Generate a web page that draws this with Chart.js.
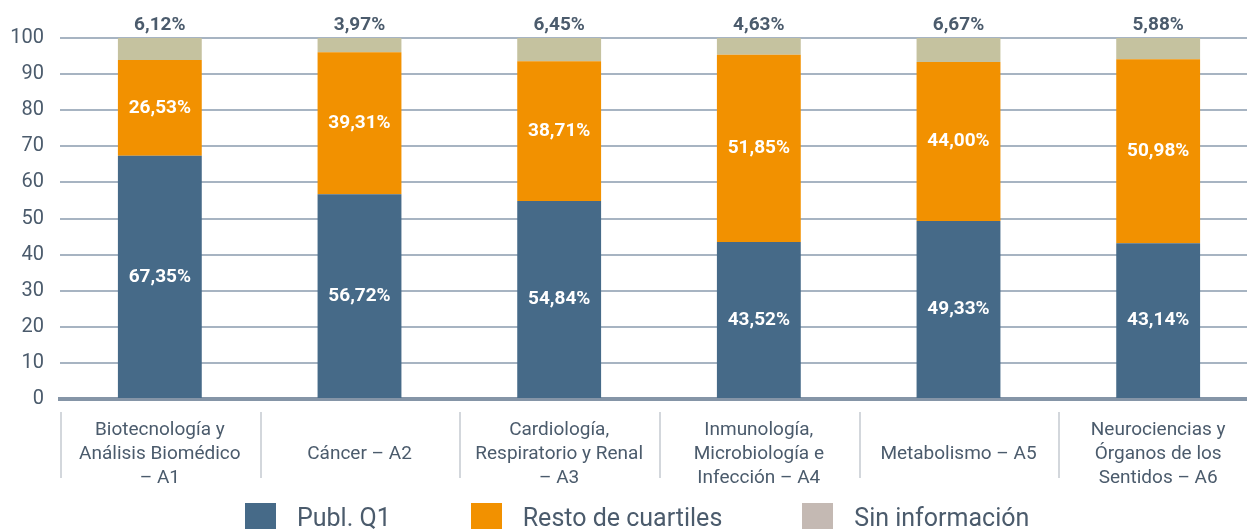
<!DOCTYPE html>
<html lang="es">
<head>
<meta charset="utf-8">
<title>Cuartiles por área</title>
<script src="https://cdn.jsdelivr.net/npm/chart.js@4.4.1/dist/chart.umd.min.js"></script>
<style>
  html, body { margin: 0; padding: 0; background: #ffffff; overflow: hidden; }
  #wrap { position: relative; width: 1258px; height: 529px; }
  #legend {
    position: absolute; left: 245px; top: 503px;
    display: flex; align-items: flex-start;
    font-family: Roboto, "Noto Sans", sans-serif; font-size: 25px; color: #4b5b6c;
  }
  .item { display: flex; align-items: flex-start; margin-right: 80px; }
  .sw { width: 31px; height: 28px; margin-right: 21px; }
  .txt { line-height: 28px; margin-top: 1px; }
</style>
</head>
<body>
<div id="wrap">
  <canvas id="chart" width="1258" height="529"></canvas>
  <div id="legend"></div>
</div>
<script>
// Porcentaje de publicaciones por cuartil en cada área
const categories = [
  ["Biotecnología y", "Análisis Biomédico", "– A1"],
  ["", "Cáncer – A2", ""],
  ["Cardiología,", "Respiratorio y Renal", "– A3"],
  ["Inmunología,", "Microbiología e", "Infección – A4"],
  ["", "Metabolismo – A5", ""],
  ["Neurociencias y", "Órganos de los", "Sentidos – A6"],
];
const seriesNames = ["Publ. Q1", "Resto de cuartiles", "Sin información"];
const publQ1 = [67.35, 56.72, 54.84, 43.52, 49.33, 43.14];
const restoCuartiles = [26.53, 39.31, 38.71, 51.85, 44.0, 50.98];
const sinInformacion = [6.12, 3.97, 6.45, 4.63, 6.67, 5.88];
const yTicks = [0, 10, 20, 30, 40, 50, 60, 70, 80, 90, 100];

const BAR_COLORS = ["#466a88", "#f29100", "#c5c29f"];
const LEGEND_COLORS = ["#466a88", "#f29100", "#c4b9b3"];
const TEXT = "#4b5b6c";
const FONT = "Roboto, 'Noto Sans', sans-serif";

const fmtPct = (v) => v.toFixed(2).replace(".", ",") + "%";

// valores sobre cada segmento (blanco dentro, oscuro encima de la barra)
const valueLabels = {
  id: "valueLabels",
  afterDatasetsDraw(chart) {
    const ctx = chart.ctx;
    ctx.save();
    ctx.font = `bold 19px ${FONT}`;
    ctx.textAlign = "center";
    ctx.textBaseline = "middle";
    chart.data.datasets.forEach((ds, di) => {
      const meta = chart.getDatasetMeta(di);
      meta.data.forEach((bar, i) => {
        const v = ds.data[i];
        if (di === 2) {
          ctx.fillStyle = TEXT;
          ctx.fillText(fmtPct(v), bar.x, chart.chartArea.top - 13);
        } else {
          ctx.fillStyle = "#ffffff";
          ctx.fillText(fmtPct(v), bar.x, (bar.y + bar.base) / 2);
        }
      });
    });
    ctx.restore();
  },
};

// separadores verticales entre etiquetas de categoría
const categoryDividers = {
  id: "categoryDividers",
  afterDraw(chart) {
    const x = chart.scales.x;
    const n = chart.data.labels.length;
    const w = x.width / n;
    const ctx = chart.ctx;
    ctx.save();
    ctx.strokeStyle = "#d3d7dc";
    ctx.lineWidth = 2;
    for (let i = 0; i <= n; i++) {
      const px = Math.round(x.left + i * w) + 1;
      ctx.beginPath();
      ctx.moveTo(px, 412);
      ctx.lineTo(px, 478);
      ctx.stroke();
    }
    ctx.restore();
  },
};

const series = [publQ1, restoCuartiles, sinInformacion];

new Chart(document.getElementById("chart"), {
  type: "bar",
  data: {
    labels: categories,
    datasets: series.map((data, i) => ({
      label: seriesNames[i],
      data,
      backgroundColor: BAR_COLORS[i],
      borderWidth: 0,
      barPercentage: 0.42,
      categoryPercentage: 1,
    })),
  },
  options: {
    responsive: false,
    animation: false,
    layout: { padding: { top: 38, right: 0, bottom: 0, left: 0 } },
    plugins: { legend: { display: false }, tooltip: { enabled: false } },
    scales: {
      x: {
        stacked: true,
        grid: { display: false },
        border: { display: true, color: "#8595a7", width: 4 },
        ticks: {
          color: TEXT,
          font: { family: FONT, size: 19, lineHeight: "24px" },
          padding: 11,
          autoSkip: false,
          maxRotation: 0,
        },
        afterFit(scale) { scale.height = 130; },
      },
      y: {
        stacked: true,
        min: 0,
        max: 100,
        afterBuildTicks(scale) { scale.ticks = yTicks.map((value) => ({ value })); },
        grid: { color: "#a7b4c2", lineWidth: 2, drawTicks: false },
        border: { display: false },
        ticks: {
          color: TEXT,
          font: { family: FONT, size: 20 },
          padding: 16,
        },
        afterFit(scale) { scale.width = 60; },
      },
    },
  },
  plugins: [valueLabels, categoryDividers],
});

// leyenda en HTML
const legend = document.getElementById("legend");
seriesNames.forEach((name, i) => {
  const item = document.createElement("div");
  item.className = "item";
  const sw = document.createElement("div");
  sw.className = "sw";
  sw.style.background = LEGEND_COLORS[i];
  const txt = document.createElement("div");
  txt.className = "txt";
  txt.textContent = name;
  item.append(sw, txt);
  legend.appendChild(item);
});
</script>
</body>
</html>
